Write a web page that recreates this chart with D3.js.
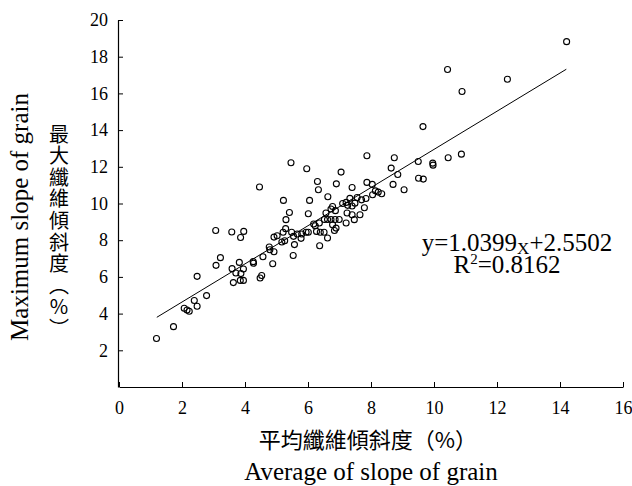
<!DOCTYPE html>
<html>
<head>
<meta charset="utf-8">
<script src="https://cdn.jsdelivr.net/npm/d3@7"></script>
<style>
  body { margin: 0; background: #fff; }
  svg text { font-family: "Liberation Serif", "Times New Roman", serif; fill: #000; }
  svg text.cjk { font-family: "Noto Sans CJK TC", "Noto Sans CJK SC", sans-serif; }
</style>
</head>
<body>
<svg id="chart" width="632" height="486"></svg>
<script>
// average slope of grain (%)
var avgSlope = [
	1.19, 1.73, 2.07, 2.16, 2.23, 2.39, 2.48, 2.48, 2.78, 3.07,
	3.08, 3.22, 3.58, 3.59, 3.63, 3.71, 3.82, 3.86, 3.96, 3.95,
	3.87, 3.85, 3.95, 4.26, 4.27, 4.48, 4.53, 4.57, 4.46, 4.77,
	4.79, 4.88, 4.92, 4.92, 5.02, 5.17, 5.21, 5.22, 5.26, 5.30,
	5.29, 5.41, 5.46, 5.48, 5.53, 5.54, 5.57, 5.66, 5.78, 5.80,
	5.94, 5.96, 6.01, 6.01, 6.05, 6.18, 6.23, 6.27, 6.30, 6.33,
	6.36, 6.37, 6.39, 6.51, 6.62, 6.52, 6.62, 6.73, 6.86, 6.99,
	6.57, 6.78, 6.73, 6.87, 6.78, 6.89, 6.84, 6.63, 7.05, 6.90,
	7.10, 7.21, 7.26, 7.33, 7.40, 7.49, 7.24, 7.40, 7.47, 7.21,
	7.65, 7.79, 7.84, 7.70, 7.56, 7.40, 7.87, 8.04, 8.14, 8.23,
	8.34, 7.87, 8.05, 8.74, 8.64, 8.85, 9.50, 9.96, 9.97, 10.45,
	10.87, 9.51, 9.66, 8.70, 9.05, 9.65, 10.89, 12.33, 10.43, 14.21
];
// maximum slope of grain (%)
var maxSlope = [
	2.64, 3.29, 4.29, 4.20, 4.13, 4.71, 4.40, 6.03, 4.98, 8.53,
	6.63, 7.05, 8.45, 6.45, 5.69, 6.21, 6.79, 8.15, 8.48, 6.43,
	6.18, 5.81, 5.81, 6.83, 6.74, 5.94, 6.08, 7.10, 10.90, 7.63,
	7.48, 6.72, 7.37, 8.17, 8.24, 7.90, 8.43, 10.17, 7.97, 9.12,
	8.63, 9.51, 12.22, 8.43, 7.17, 8.21, 7.76, 8.34, 8.10, 8.34,
	8.43, 11.89, 8.43, 9.44, 10.17, 8.88, 8.79, 8.48, 11.20, 10.75,
	8.94, 7.70, 8.43, 8.43, 8.12, 9.13, 9.13, 9.13, 9.13, 9.13,
	9.48, 9.84, 9.70, 9.61, 8.84, 8.66, 8.53, 10.37, 11.71, 11.07,
	10.00, 10.06, 9.90, 10.28, 9.86, 10.02, 9.48, 9.39, 9.12, 8.94,
	9.39, 9.77, 10.27, 10.20, 10.33, 10.87, 11.15, 11.04, 10.69, 10.62,
	10.53, 12.60, 10.48, 12.49, 11.93, 11.58, 12.29, 12.20, 12.09, 12.49,
	12.69, 11.38, 11.33, 11.04, 10.75, 14.19, 16.10, 16.77, 17.30, 18.82
];
var slope = 1.0399, intercept = 2.5502, rSquared = 0.8162;
var fitRange = [1.2, 14.2];
var xTicks = [0, 2, 4, 6, 8, 10, 12, 14, 16];
var yTicks = [2, 4, 6, 8, 10, 12, 14, 16, 18, 20];
var yTitleCjk = "最大纖維傾斜度︵%︶";

var serif = "'Liberation Serif', 'Times New Roman', serif";
var svg = d3.select("#chart");

var x = d3.scaleLinear().domain([0, 16]).range([119, 623]);
var y = d3.scaleLinear().domain([0, 20]).range([387, 20]);

// axes: ticks point inward, no end caps
var xAxis = svg.append("g")
	.attr("transform", "translate(0," + y(0) + ")")
	.call(d3.axisBottom(x).tickValues(xTicks).tickSizeInner(-5).tickSizeOuter(0).tickPadding(14));
var yAxis = svg.append("g")
	.attr("transform", "translate(118,0)")
	.call(d3.axisLeft(y).tickValues(yTicks).tickSizeInner(-5).tickSizeOuter(0).tickPadding(10));

[xAxis, yAxis].forEach(function (a) {
	a.attr("font-family", serif).attr("font-size", 18);
	a.select(".domain").attr("stroke", "#000").attr("stroke-width", 1.2);
	a.selectAll(".tick line").attr("stroke", "#000");
	a.selectAll(".tick text")
		.style("font-family", serif)
		.style("font-size", "18px")
		.attr("fill", "#000");
});

// regression line
svg.append("line")
	.attr("x1", x(fitRange[0])).attr("y1", y(slope * fitRange[0] + intercept))
	.attr("x2", x(fitRange[1])).attr("y2", y(slope * fitRange[1] + intercept))
	.attr("stroke", "#000").attr("stroke-width", 1);

// points
svg.append("g").selectAll("circle")
	.data(avgSlope.map(function (v, i) { return [v, maxSlope[i]]; }))
	.join("circle")
	.attr("cx", function (d) { return x(d[0]); })
	.attr("cy", function (d) { return y(d[1]); })
	.attr("r", 3)
	.attr("fill", "none")
	.attr("stroke", "#000")
	.attr("stroke-width", 1.1);

// equation
var eq = svg.append("text").attr("x", 517).attr("y", 251)
	.attr("text-anchor", "middle").style("font-size", "25px");
eq.append("tspan").text("y=" + slope.toFixed(4));
eq.append("tspan").style("font-size", "17px").attr("dy", 3).text("X");
eq.append("tspan").attr("dy", -3).text("+" + intercept.toFixed(4));

var r2 = svg.append("text").attr("x", 507).attr("y", 273)
	.attr("text-anchor", "middle").style("font-size", "25px");
r2.append("tspan").text("R");
r2.append("tspan").style("font-size", "15px").attr("dy", -9).text("2");
r2.append("tspan").attr("dy", 9).text("=" + rSquared);

// x titles
svg.append("text").attr("class", "cjk").attr("x", 368).attr("y", 448)
	.attr("text-anchor", "middle").style("font-size", "22px")
	.text("平均纖維傾斜度（%）");
svg.append("text").attr("x", 371).attr("y", 480)
	.attr("text-anchor", "middle").style("font-size", "25px")
	.text("Average of slope of grain");

// y titles
svg.append("text")
	.attr("transform", "translate(28,217) rotate(-90)")
	.attr("text-anchor", "middle")
	.style("font-family", serif).style("font-size", "25px")
	.text("Maximum slope of grain");

svg.append("text").attr("class", "cjk")
	.attr("x", 59).attr("y", 124)
	.style("writing-mode", "vertical-rl")
	.style("text-orientation", "upright")
	.style("font-size", "20px")
	.style("letter-spacing", "1.6px")
	.text(yTitleCjk);
</script>
</body>
</html>
